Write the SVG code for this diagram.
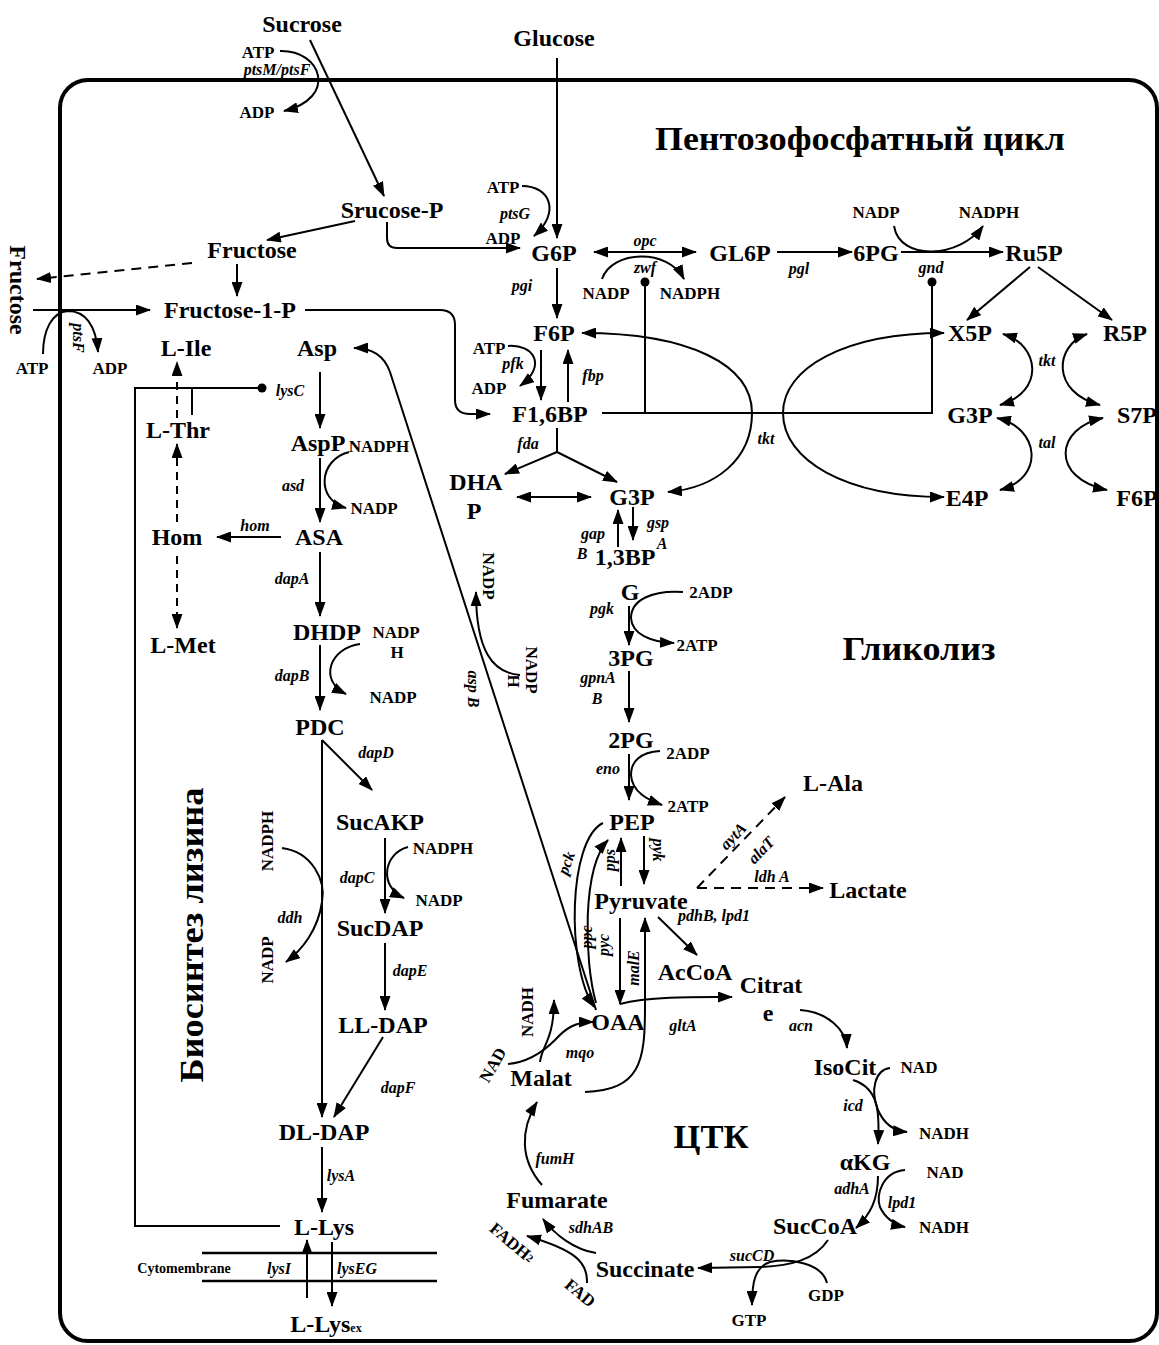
<svg xmlns="http://www.w3.org/2000/svg" width="1159" height="1345" viewBox="0 0 1159 1345">
<style>
text{font-family:"Liberation Serif","Times New Roman",serif;font-weight:bold;fill:#000;text-anchor:middle;dominant-baseline:central}
.n{font-size:24px}
.c{font-size:17px}
.e{font-size:16px;font-style:italic}
.t{font-size:34px;dominant-baseline:alphabetic}
.cm{font-size:14px}
</style>
<defs>
<marker id="a" viewBox="0 0 15 11" refX="14" refY="5.5" markerWidth="15" markerHeight="11" markerUnits="userSpaceOnUse" orient="auto-start-reverse"><path d="M0,0 L15,5.5 L0,11 z" fill="#000"/></marker>
</defs>
<rect width="1159" height="1345" fill="#fff"/>
<rect id="cell" x="60" y="80" width="1097" height="1261" rx="28" fill="none" stroke="#000" stroke-width="4"/>

<g id="titles">
<text class="t" x="860" y="150" textLength="410" lengthAdjust="spacingAndGlyphs">Пентозофосфатный цикл</text>
<text class="t" x="919" y="660" textLength="153" lengthAdjust="spacingAndGlyphs">Гликолиз</text>
<text class="t" x="711" y="1148" font-size="30" textLength="75" lengthAdjust="spacingAndGlyphs">ЦТК</text>
<text class="t" x="203" y="935" transform="rotate(-90 203 935)" textLength="295" lengthAdjust="spacingAndGlyphs">Биосинтез лизина</text>
</g>

<g id="connectors" fill="none" stroke="#000" stroke-width="2">
<path d="M310,40 L384,196" marker-end="url(#a)"/>
<path d="M280,51 C322,50 338,98 284,111" marker-end="url(#a)"/>
<path d="M355,221 L267,240" marker-end="url(#a)"/>
<path d="M387,222 L387,238 Q387,248 397,248 L520,248" marker-end="url(#a)"/>
<path d="M192,263 L37,279" stroke-dasharray="10,7" marker-end="url(#a)"/>
<path d="M237,264 L237,296" marker-end="url(#a)"/>
<path d="M33,310 L150,310" marker-end="url(#a)"/>
<path d="M43,354 C43,330 52,312 68,311 C85,311 96,325 98,352" marker-end="url(#a)"/>
<path d="M305,310 L440,310 Q455,310 455,325 L455,400 Q455,414 470,414 L490,414" marker-end="url(#a)"/>
<path d="M557,58 L557,238" marker-end="url(#a)"/>
<path d="M522,186 C550,186 561,212 534,236" marker-end="url(#a)"/>
<path d="M594,252 L696,252" marker-start="url(#a)" marker-end="url(#a)"/>
<path d="M602,279 C612,250 668,248 684,279" marker-end="url(#a)"/>
<path d="M645,283 L645,413"/>
<path d="M557,268 L557,318" marker-end="url(#a)"/>
<path d="M777,252 L852,252" marker-end="url(#a)"/>
<path d="M894,226 C900,262 960,258 983,226" marker-end="url(#a)"/>
<path d="M901,252 L1003,252" marker-end="url(#a)"/>
<path d="M602,413 L932,413 L932,286"/>
<path d="M1030,267 L967,320" marker-end="url(#a)"/>
<path d="M1038,267 L1112,320" marker-end="url(#a)"/>
<path d="M582,333 C690,333 752,365 752,413 C752,460 715,488 668,492" marker-start="url(#a)" marker-end="url(#a)"/>
<path d="M944,333 C845,333 783,368 783,413 C783,460 845,497 944,497" marker-start="url(#a)" marker-end="url(#a)"/>
<path d="M1003,334 C1040,345 1045,392 1000,405" marker-start="url(#a)" marker-end="url(#a)"/>
<path d="M1087,334 C1055,345 1050,392 1100,405" marker-start="url(#a)" marker-end="url(#a)"/>
<path d="M997,418 C1040,428 1045,478 1000,490" marker-start="url(#a)" marker-end="url(#a)"/>
<path d="M1103,418 C1055,428 1050,478 1107,490" marker-start="url(#a)" marker-end="url(#a)"/>
<path d="M541,350 L541,400" marker-end="url(#a)"/>
<path d="M508,346 C533,344 548,365 520,386" marker-end="url(#a)"/>
<path d="M568,402 L568,350" marker-end="url(#a)"/>
<path d="M557,428 L557,452"/>
<path d="M557,452 L505,474" marker-end="url(#a)"/>
<path d="M557,452 L617,482" marker-end="url(#a)"/>
<path d="M517,497 L591,497" marker-start="url(#a)" marker-end="url(#a)"/>
<path d="M618,547 L618,510" marker-end="url(#a)"/>
<path d="M633,507 L633,540" marker-end="url(#a)"/>
<path d="M629,606 L629,645" marker-end="url(#a)"/>
<path d="M683,592 C652,590 631,600 631,618 C632,634 650,642 674,643" marker-end="url(#a)"/>
<path d="M629,671 L629,722" marker-end="url(#a)"/>
<path d="M629,754 L629,800" marker-end="url(#a)"/>
<path d="M660,751 C640,752 631,762 631,775 C632,792 648,800 662,805" marker-end="url(#a)"/>
<path d="M644,836 L644,884" marker-end="url(#a)"/>
<path d="M621,886 L621,838" marker-end="url(#a)"/>
<path d="M658,917 L697,955" marker-end="url(#a)"/>
<path d="M620,918 L620,1004" marker-end="url(#a)"/>
<path d="M585,1092 C640,1090 645,1062 645,1008 L645,918" marker-end="url(#a)"/>
<path d="M620,1004 C650,996 700,997 732,997" marker-end="url(#a)"/>
<path d="M603,823 C568,840 566,965 594,1007" marker-end="url(#a)"/>
<path d="M596,1003 C584,960 582,868 608,840" marker-end="url(#a)"/>
<path d="M596,1010 L390,372 C384,355 372,348 354,348" marker-end="url(#a)"/>
<path d="M520,675 C492,673 476,650 476,592" marker-end="url(#a)"/>
<path d="M697,888 L785,797" stroke-dasharray="10,7" marker-end="url(#a)"/>
<path d="M697,888 L823,888" stroke-dasharray="10,7" marker-end="url(#a)"/>
<path d="M320,372 L320,428" marker-end="url(#a)"/>
<path d="M258,388 L135,388 L135,1226 L280,1226"/>
<path d="M192,388 L192,415"/>
<path d="M177,418 L177,362" stroke-dasharray="8,6" marker-end="url(#a)"/>
<path d="M177,522 L177,444" stroke-dasharray="8,6" marker-end="url(#a)"/>
<path d="M177,556 L177,628" stroke-dasharray="8,6" marker-end="url(#a)"/>
<path d="M320,458 L320,522" marker-end="url(#a)"/>
<path d="M349,452 C318,460 316,500 346,508" marker-end="url(#a)"/>
<path d="M281,537 L217,537" marker-end="url(#a)"/>
<path d="M320,552 L320,616" marker-end="url(#a)"/>
<path d="M320,645 L320,710" marker-end="url(#a)"/>
<path d="M360,644 C330,648 318,680 346,694" marker-end="url(#a)"/>
<path d="M322,740 L372,790" marker-end="url(#a)"/>
<path d="M322,740 L322,1117" marker-end="url(#a)"/>
<path d="M282,848 C312,852 326,880 322,902 C318,930 302,950 286,962" marker-end="url(#a)"/>
<path d="M385,838 L385,913" marker-end="url(#a)"/>
<path d="M408,847 C384,853 378,886 404,898" marker-end="url(#a)"/>
<path d="M385,943 L385,1010" marker-end="url(#a)"/>
<path d="M383,1037 L334,1117" marker-end="url(#a)"/>
<path d="M322,1147 L322,1212" marker-end="url(#a)"/>
<path d="M202,1253 L437,1253" stroke-width="2.5"/>
<path d="M202,1281 L437,1281" stroke-width="2.5"/>
<path d="M307,1298 L307,1240" marker-end="url(#a)"/>
<path d="M332,1242 L332,1306" marker-end="url(#a)"/>
<path d="M800,1010 C828,1012 846,1030 847,1048" marker-end="url(#a)"/>
<path d="M853,1080 C878,1088 880,1110 878,1144" marker-end="url(#a)"/>
<path d="M890,1068 C875,1070 870,1090 878,1110 C884,1124 895,1131 907,1132" marker-end="url(#a)"/>
<path d="M878,1176 C878,1200 870,1215 856,1228" marker-end="url(#a)"/>
<path d="M905,1170 C882,1172 876,1195 880,1207 C885,1218 895,1225 905,1227" marker-end="url(#a)"/>
<path d="M828,1240 C815,1260 790,1266 760,1267 L698,1268" marker-end="url(#a)"/>
<path d="M827,1283 C822,1263 790,1258 770,1262 C755,1267 752,1282 752,1305" marker-end="url(#a)"/>
<path d="M596,1253 C575,1250 555,1235 543,1219" marker-end="url(#a)"/>
<path d="M587,1283 C588,1262 575,1250 527,1236" marker-end="url(#a)"/>
<path d="M542,1185 C520,1160 520,1130 537,1102" marker-end="url(#a)"/>
<path d="M508,1064 C530,1062 545,1050 555,1040 C566,1028 575,1022 593,1022" marker-end="url(#a)"/>
<path d="M540,1062 C542,1045 554,1040 554,1000" marker-end="url(#a)"/>
<g fill="#000" stroke="none">
<circle cx="645" cy="282" r="4.5"/>
<circle cx="932" cy="282" r="4.5"/>
<circle cx="262" cy="388" r="4.5"/>
</g>
</g>

<g id="nodes">
<g id="sucrose"><text class="n" x="302" y="24">Sucrose</text></g>
<g id="glucose"><text class="n" x="554" y="38">Glucose</text></g>
<g id="sucrose-p"><text class="n" x="392" y="210">Srucose-P</text></g>
<g id="fructose"><text class="n" x="252" y="250">Fructose</text></g>
<g id="fructose-ext"><text class="n" x="18" y="290" transform="rotate(90 18 290)">Fructose</text></g>
<g id="fructose-1-p"><text class="n" x="230" y="310">Fructose-1-P</text></g>
<g id="g6p"><text class="n" x="554" y="253">G6P</text></g>
<g id="gl6p"><text class="n" x="740" y="253">GL6P</text></g>
<g id="pg6"><text class="n" x="876" y="253">6PG</text></g>
<g id="ru5p"><text class="n" x="1034" y="253">Ru5P</text></g>
<g id="f6p"><text class="n" x="554" y="333">F6P</text></g>
<g id="x5p"><text class="n" x="970" y="333">X5P</text></g>
<g id="r5p"><text class="n" x="1125" y="333">R5P</text></g>
<g id="asp"><text class="n" x="317" y="348">Asp</text></g>
<g id="l-ile"><text class="n" x="186" y="348">L-Ile</text></g>
<g id="f16bp"><text class="n" x="550" y="414">F1,6BP</text></g>
<g id="g3p-ppp"><text class="n" x="970" y="415">G3P</text></g>
<g id="s7p"><text class="n" x="1137" y="415">S7P</text></g>
<g id="l-thr"><text class="n" x="178" y="430">L-Thr</text></g>
<g id="aspp"><text class="n" x="318" y="443">AspP</text></g>
<g id="dhap"><text class="n" x="476" y="482">DHA</text><text class="n" x="474" y="511">P</text></g>
<g id="g3p"><text class="n" x="632" y="497">G3P</text></g>
<g id="e4p"><text class="n" x="967" y="498">E4P</text></g>
<g id="f6p-ppp"><text class="n" x="1137" y="498">F6P</text></g>
<g id="hom"><text class="n" x="177" y="537">Hom</text></g>
<g id="asa"><text class="n" x="319" y="537">ASA</text></g>
<g id="bpg13"><text class="n" x="625" y="557">1,3BP</text><text class="n" x="630" y="592">G</text></g>
<g id="dhdp"><text class="n" x="327" y="632">DHDP</text></g>
<g id="l-met"><text class="n" x="183" y="645">L-Met</text></g>
<g id="pg3"><text class="n" x="631" y="658">3PG</text></g>
<g id="pdc"><text class="n" x="320" y="727">PDC</text></g>
<g id="pg2"><text class="n" x="631" y="740">2PG</text></g>
<g id="l-ala"><text class="n" x="833" y="783">L-Ala</text></g>
<g id="pep"><text class="n" x="632" y="822">PEP</text></g>
<g id="sucakp"><text class="n" x="380" y="822">SucAKP</text></g>
<g id="lactate"><text class="n" x="868" y="890">Lactate</text></g>
<g id="pyruvate"><text class="n" x="641" y="901">Pyruvate</text></g>
<g id="sucdap"><text class="n" x="380" y="928">SucDAP</text></g>
<g id="accoa"><text class="n" x="695" y="972">AcCoA</text></g>
<g id="citrate"><text class="n" x="771" y="985">Citrat</text><text class="n" x="768" y="1013">e</text></g>
<g id="oaa"><text class="n" x="618" y="1022">OAA</text></g>
<g id="ll-dap"><text class="n" x="383" y="1025">LL-DAP</text></g>
<g id="isocit"><text class="n" x="845" y="1067">IsoCit</text></g>
<g id="malat"><text class="n" x="541" y="1078">Malat</text></g>
<g id="dl-dap"><text class="n" x="324" y="1132">DL-DAP</text></g>
<g id="akg"><text class="n" x="865" y="1162">αKG</text></g>
<g id="fumarate"><text class="n" x="557" y="1200">Fumarate</text></g>
<g id="l-lys"><text class="n" x="324" y="1227">L-Lys</text></g>
<g id="succoa"><text class="n" x="815" y="1226">SucCoA</text></g>
<g id="succinate"><text class="n" x="645" y="1269">Succinate</text></g>
<g id="l-lys-ex"><text class="n" x="326" y="1324">L-Lys<tspan font-size="12" dy="4">ex</tspan></text></g>
<g id="cytomembrane"><text class="cm" x="184" y="1268">Cytomembrane</text></g>
</g>

<g id="cofactors">
<g id="atp1"><text class="c" x="258" y="52">ATP</text></g>
<g id="adp1"><text class="c" x="257" y="112">ADP</text></g>
<g id="atp2"><text class="c" x="32" y="368">ATP</text></g>
<g id="adp2"><text class="c" x="110" y="368">ADP</text></g>
<g id="atp3"><text class="c" x="503" y="187">ATP</text></g>
<g id="adp3"><text class="c" x="503" y="238">ADP</text></g>
<g id="nadp1"><text class="c" x="606" y="293">NADP</text></g>
<g id="nadph1"><text class="c" x="690" y="293">NADPH</text></g>
<g id="nadp2"><text class="c" x="876" y="212">NADP</text></g>
<g id="nadph2"><text class="c" x="989" y="212">NADPH</text></g>
<g id="atp4"><text class="c" x="489" y="348">ATP</text></g>
<g id="adp4"><text class="c" x="489" y="388">ADP</text></g>
<g id="nadph3"><text class="c" x="379" y="446">NADPH</text></g>
<g id="nadp3"><text class="c" x="374" y="508">NADP</text></g>
<g id="nadph4"><text class="c" x="396" y="632">NADP</text><text class="c" x="397" y="652">H</text></g>
<g id="nadp4"><text class="c" x="393" y="697">NADP</text></g>
<g id="adp5"><text class="c" x="711" y="592">2ADP</text></g>
<g id="atp5"><text class="c" x="697" y="645">2ATP</text></g>
<g id="adp6"><text class="c" x="688" y="753">2ADP</text></g>
<g id="atp6"><text class="c" x="688" y="806">2ATP</text></g>
<g id="nadp5"><text class="c" x="488" y="576" transform="rotate(90 488 576)">NADP</text></g>
<g id="nadph5"><text class="c" x="531" y="670" transform="rotate(90 531 670)">NADP</text><text class="c" x="513" y="681" transform="rotate(90 513 681)">H</text></g>
<g id="nadph6"><text class="c" x="267" y="841" transform="rotate(-90 267 841)">NADPH</text></g>
<g id="nadp6"><text class="c" x="267" y="960" transform="rotate(-90 267 960)">NADP</text></g>
<g id="nadph7"><text class="c" x="443" y="848">NADPH</text></g>
<g id="nadp7"><text class="c" x="439" y="900">NADP</text></g>
<g id="nad1"><text class="c" x="493" y="1065" transform="rotate(-60 493 1065)">NAD</text></g>
<g id="nadh1"><text class="c" x="527" y="1012" transform="rotate(-90 527 1012)">NADH</text></g>
<g id="nad2"><text class="c" x="919" y="1067">NAD</text></g>
<g id="nadh2"><text class="c" x="944" y="1133">NADH</text></g>
<g id="nad3"><text class="c" x="945" y="1172">NAD</text></g>
<g id="nadh3"><text class="c" x="944" y="1227">NADH</text></g>
<g id="gdp"><text class="c" x="826" y="1295">GDP</text></g>
<g id="gtp"><text class="c" x="749" y="1320">GTP</text></g>
<g id="fadh2"><text class="c" x="512" y="1243" transform="rotate(40 512 1243)">FADH<tspan font-size="11">2</tspan></text></g>
<g id="fad"><text class="c" x="580" y="1293" transform="rotate(40 580 1293)">FAD</text></g>
</g>

<g id="enzymes">
<text class="e" x="277" y="69">ptsM/ptsF</text>
<text class="e" x="78" y="338" transform="rotate(90 78 338)">ptsF</text>
<text class="e" x="515" y="213">ptsG</text>
<text class="e" x="522" y="285">pgi</text>
<text class="e" x="645" y="240">opc</text>
<text class="e" x="645" y="267">zwf</text>
<text class="e" x="799" y="268">pgl</text>
<text class="e" x="931" y="267">gnd</text>
<text class="e" x="290" y="390">lysC</text>
<text class="e" x="513" y="363">pfk</text>
<text class="e" x="593" y="375">fbp</text>
<text class="e" x="528" y="443">fda</text>
<text class="e" x="766" y="438">tkt</text>
<text class="e" x="1047" y="360">tkt</text>
<text class="e" x="1047" y="442">tal</text>
<text class="e" x="293" y="485">asd</text>
<text class="e" x="255" y="525">hom</text>
<text class="e" x="593" y="533">gap</text>
<text class="e" x="582" y="553">B</text>
<text class="e" x="658" y="522">gsp</text>
<text class="e" x="662" y="543">A</text>
<text class="e" x="292" y="578">dapA</text>
<text class="e" x="602" y="608">pgk</text>
<text class="e" x="292" y="675">dapB</text>
<text class="e" x="598" y="677">gpnA</text>
<text class="e" x="597" y="698">B</text>
<text class="e" x="473" y="689" transform="rotate(90 473 689)">asp B</text>
<text class="e" x="376" y="752">dapD</text>
<text class="e" x="608" y="768">eno</text>
<text class="e" x="566" y="863" transform="rotate(-70 566 863)">pck</text>
<text class="e" x="609" y="860" transform="rotate(-90 609 860)">pps</text>
<text class="e" x="658" y="850" transform="rotate(90 658 850)">pyk</text>
<text class="e" x="733" y="836" transform="rotate(-46 733 836)">aytA</text>
<text class="e" x="761" y="850" transform="rotate(-46 761 850)">alaT</text>
<text class="e" x="772" y="876">ldh A</text>
<text class="e" x="357" y="877">dapC</text>
<text class="e" x="290" y="917">ddh</text>
<text class="e" x="714" y="915">pdhB, lpd1</text>
<text class="e" x="586" y="937" transform="rotate(-90 586 937)">ppc</text>
<text class="e" x="603" y="945" transform="rotate(-90 603 945)">pyc</text>
<text class="e" x="633" y="968" transform="rotate(-90 633 968)">malE</text>
<text class="e" x="410" y="970">dapE</text>
<text class="e" x="683" y="1025">gltA</text>
<text class="e" x="801" y="1025">acn</text>
<text class="e" x="580" y="1052">mqo</text>
<text class="e" x="398" y="1087">dapF</text>
<text class="e" x="853" y="1105">icd</text>
<text class="e" x="555" y="1158">fumH</text>
<text class="e" x="341" y="1175">lysA</text>
<text class="e" x="852" y="1188">adhA</text>
<text class="e" x="902" y="1202">lpd1</text>
<text class="e" x="591" y="1227">sdhAB</text>
<text class="e" x="752" y="1255">sucCD</text>
<text class="e" x="279" y="1268">lysI</text>
<text class="e" x="357" y="1268">lysEG</text>
</g>
</svg>
